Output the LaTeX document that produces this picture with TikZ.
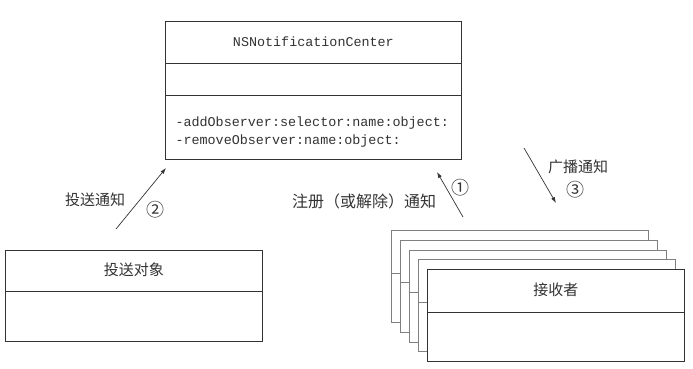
\documentclass[tikz,border=0pt]{standalone}
\usepackage{fontspec}
\setmonofont{Liberation Mono}
\newfontfamily\cjk{Noto Sans CJK SC}
\usetikzlibrary{arrows.meta,calc}
\definecolor{LineGray}{HTML}{333333}
\definecolor{BackGray}{HTML}{808080}

\begin{document}
\begin{tikzpicture}[
  x=1pt,y=-1pt,
  cls/.style={draw=LineGray,line width=0.8pt,fill=white,anchor=north west,inner sep=0pt},
  rcv/.style={cls,minimum width=257pt,minimum height=92pt},
  back/.style={rcv,draw=BackGray},
  sep/.style={LineGray,line width=0.8pt},
  code/.style={font=\ttfamily\fontsize{13.4}{18}\selectfont,text=LineGray},
  lbl/.style={font=\cjk\fontsize{15}{16}\selectfont,text=LineGray},
  num/.style={font=\cjk\fontsize{18}{18}\selectfont,text=LineGray},
  arrow/.style={-{Latex[length=6pt,width=4pt]},line width=0.7pt,LineGray}
]
\useasboundingbox (0,0) rectangle (693,369);
% notification center
\node[cls,minimum width=296pt,minimum height=138pt] (center) at (165,21) {};
\draw[sep] ($(center.north west)+(0,42)$) -- ($(center.north east)+(0,42)$);
\draw[sep] ($(center.north west)+(0,74)$) -- ($(center.north east)+(0,74)$);
\node[code] (title) at ($(center.north)+(0,21)$) {NSNotificationCenter};
\node[code,anchor=west,align=left] (methods) at ($(center.north west)+(7,111)$)
  {-addObserver:selector:name:object:\\-removeObserver:name:object:};
% sender
\node[cls,minimum width=257pt,minimum height=91pt] (sender) at (5,250) {};
\draw[sep] ($(sender.north west)+(0,41)$) -- ($(sender.north east)+(0,41)$);
\node[lbl] (sendname) at ($(sender.north)+(0,20)$) {投送对象};
% receivers
\node[back] (rcv1) at (391,230) {};
\draw[sep,BackGray] ($(rcv1.north west)+(0,43)$) -- ($(rcv1.north east)+(0,43)$);
\node[back] (rcv2) at (400,239.75) {};
\draw[sep,BackGray] ($(rcv2.north west)+(0,43)$) -- ($(rcv2.north east)+(0,43)$);
\node[back] (rcv3) at (409,249.5) {};
\draw[sep,BackGray] ($(rcv3.north west)+(0,43)$) -- ($(rcv3.north east)+(0,43)$);
\node[back] (rcv4) at (418,259.25) {};
\draw[sep,BackGray] ($(rcv4.north west)+(0,43)$) -- ($(rcv4.north east)+(0,43)$);
\node[rcv] (rcv5) at (427,269) {};
\draw[sep] ($(rcv5.north west)+(0,43)$) -- ($(rcv5.north east)+(0,43)$);
\node[lbl] (rcvname) at ($(rcv5.north)+(0,21)$) {接收者};
% arrows
\coordinate (postfrom) at (116,229);
\coordinate (postto) at (166,168);
\coordinate (regfrom) at (463,217);
\coordinate (regto) at (437,172);
\coordinate (castfrom) at (524,148);
\coordinate (castto) at (556,203);
\draw[arrow] (postfrom) -- (postto);
\draw[arrow] (regfrom) -- (regto);
\draw[arrow] (castfrom) -- (castto);
\node[lbl] (post) at (95,200) {投送通知};
\node[num] (n2) at (155,210) {②};
\node[lbl,font=\cjk\fontsize{16}{16}\selectfont] (reg) at (364,201) {注册（或解除）通知};
\node[num] (n1) at (460,188) {①};
\node[lbl] (cast) at (578,167) {广播通知};
\node[num] (n3) at (575,190) {③};
\end{tikzpicture}
\end{document}
